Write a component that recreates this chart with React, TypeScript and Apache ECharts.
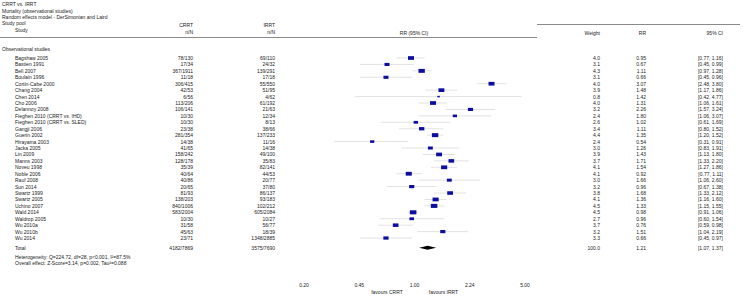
import React, { useEffect, useRef } from 'react';
import * as echarts from 'echarts';

const studies = [
  'Bagshaw 2005', 'Bastien 1991', 'Bell 2007', 'Boulain 1996', 'Cortin-Cabe 2000', 'Chang 2004',
  'Chen 2014', 'Cho 2006', 'Delannoy 2008', 'Fieghen 2010 (CRRT vs. IHD)', 'Fieghen 2010 (CRRT vs. SLED)',
  'Gangji 2006', 'Guerin 2002', 'Hirayama 2003', 'Jacka 2005', 'Lin 2009', 'Manns 2003', 'Noveu 1998',
  'Noble 2006', 'Rauf 2008', 'Sun 2014', 'Swartz 1999', 'Swartz 2005', 'Uchino 2007', 'Wald 2014',
  'Waldrop 2005', 'Wu 2010a', 'Wu 2010b', 'Wu 2014',
];
const crrtN = [
  '78/130', '17/34', '367/1911', '11/18', '306/415', '42/53', '6/56', '113/206', '106/141', '10/30', '10/30',
  '23/38', '281/354', '14/38', '41/65', '158/242', '128/178', '35/39', '40/64', '40/86', '20/65', '81/93',
  '138/203', '840/1006', '583/2004', '10/30', '31/58', '45/63', '23/71',
];
const irrtN = [
  '69/110', '24/32', '139/291', '17/18', '55/550', '51/95', '4/62', '61/192', '21/63', '12/34', '8/13',
  '38/66', '137/233', '11/16', '14/38', '49/100', '35/83', '82/141', '44/53', '20/77', '37/80', '86/137',
  '93/183', '102/212', '605/2084', '10/27', '56/77', '18/39', '1348/2885',
];
const weights = [4.0, 3.1, 4.3, 3.1, 4.0, 3.9, 0.8, 4.0, 3.2, 2.4, 2.6, 3.4, 4.4, 2.4, 3.0, 3.9, 3.7, 4.1,
  4.1, 3.0, 3.2, 3.8, 4.1, 4.5, 4.5, 2.7, 3.7, 3.2, 3.3];
const rr = [0.95, 0.67, 1.11, 0.66, 3.07, 1.48, 1.42, 1.31, 2.26, 1.80, 1.02, 1.11, 1.35, 0.54, 1.26, 1.43,
  1.71, 1.54, 0.92, 1.66, 0.96, 1.68, 1.36, 1.33, 0.98, 0.96, 0.76, 1.51, 0.66];
const ciLow = [0.77, 0.45, 0.97, 0.45, 2.48, 1.17, 0.42, 1.06, 1.57, 1.06, 0.61, 0.80, 1.20, 0.31, 0.83, 1.13,
  1.33, 1.27, 0.77, 1.06, 0.67, 1.33, 1.16, 1.15, 0.91, 0.60, 0.59, 1.04, 0.45];
const ciHigh = [1.16, 0.99, 1.28, 0.96, 3.80, 1.86, 4.77, 1.61, 3.24, 3.07, 1.69, 1.52, 1.52, 0.91, 1.91, 1.80,
  2.20, 1.86, 1.11, 2.60, 1.38, 2.12, 1.60, 1.55, 1.06, 1.54, 0.98, 2.19, 0.97];

const totalCrrt = '4182/7869';
const totalIrrt = '3575/7690';
const totalWeight = 100.0;
const totalRR = 1.21;
const totalLow = 1.07;
const totalHigh = 1.37;

const xTickValues = [0.2, Math.sqrt(5) / 5, 1, Math.sqrt(5), 5];
const xTickLabels = ['0.20', '0.45', '1.00', '2.24', '5.00'];

const titleLines = ['CRRT vs. IRRT', 'Mortality (observational studies)', 'Random effects model - DerSimonian and Laird'];
const heterogeneityText = 'Heterogeneity: Q=224.72, df=28, p<0.001, I\u00b2=87.5%';
const overallText = 'Overall effect: Z-Score=3.14, p=0.002, Tau\u00b2=0.088';

const FONT = '"Liberation Sans", Arial, Helvetica, sans-serif';
const TXT = '#222';
const FS = 5;

const X_STUDY = 15;
const X_CRRT = 193;
const X_IRRT = 275;
const X_W = 600;
const X_RR = 646;
const X_CI = 723;

const fmtCI = (a: number, b: number) => `[${a.toFixed(2)}, ${b.toFixed(2)}]`;

function txt(text: string, x: number, y: number, align: string, color = TXT) {
  return {
    type: 'text',
    x,
    y,
    silent: true,
    style: {
      text,
      fill: color,
      fontSize: FS,
      fontFamily: FONT,
      align,
      textAlign: align,
      verticalAlign: 'middle',
      textVerticalAlign: 'middle',
    },
  };
}

export default function App() {
  const ref = useRef<HTMLDivElement>(null);

  useEffect(() => {
    if (!ref.current) return;
    const chart = echarts.init(ref.current, undefined, { renderer: 'svg' });

    const studyData = studies.map((_, i) => [i, rr[i], ciLow[i], ciHigh[i], weights[i]]);
    const totalRow = 29.5;

    const graphic: any[] = [];
    titleLines.forEach((t, i) => graphic.push(txt(t, 2, [4, 10.5, 17][i], 'left')));
    graphic.push(txt('Study pool', 2, 23, 'left'));
    graphic.push(txt('Study', X_STUDY, 30, 'left'));
    graphic.push(txt('CRRT', X_CRRT, 24.5, 'right'));
    graphic.push(txt('n/N', X_CRRT, 32, 'right'));
    graphic.push(txt('IRRT', X_IRRT, 24.5, 'right'));
    graphic.push(txt('n/N', X_IRRT, 32, 'right'));
    graphic.push(txt('RR (95% CI)', 414, 32.5, 'center'));
    graphic.push(txt('Weight', X_W, 33.3, 'right'));
    graphic.push(txt('RR', X_RR, 33.3, 'right'));
    graphic.push(txt('95% CI', X_CI, 33.3, 'right'));
    graphic.push({ type: 'line', silent: true, shape: { x1: 0, y1: 37.5, x2: 537, y2: 37.5 }, style: { stroke: '#8a8a8a', lineWidth: 1 } });
    graphic.push({ type: 'line', silent: true, shape: { x1: 537, y1: 24.5, x2: 740, y2: 24.5 }, style: { stroke: '#8a8a8a', lineWidth: 1 } });
    graphic.push(txt('Observational studies', 2, 48.5, 'left'));
    graphic.push(txt(heterogeneityText, X_STUDY, 257, 'left'));
    graphic.push(txt(overallText, X_STUDY, 262.5, 'left'));
    graphic.push(txt('favours CRRT', 387, 292, 'center'));
    graphic.push(txt('favours IRRT', 443.5, 292, 'center'));

    const option: any = {
      animation: false,
      grid: { left: 304, right: 218, top: 45.14, bottom: 20.38, containLabel: false },
      xAxis: {
        type: 'log',
        logBase: Math.sqrt(5),
        min: 0.2,
        max: 5,
        axisLine: { show: false },
        axisTick: { show: false },
        splitLine: { show: false },
        axisLabel: {
          fontSize: FS,
          fontFamily: FONT,
          color: TXT,
          margin: 6,
          formatter: (v: number) => {
            let best = 0;
            xTickValues.forEach((t, k) => {
              if (Math.abs(Math.log(t) - Math.log(v)) < Math.abs(Math.log(xTickValues[best]) - Math.log(v))) best = k;
            });
            return xTickLabels[best];
          },
        },
      },
      yAxis: { type: 'value', inverse: true, min: -2, max: 34, show: false },
      graphic,
      series: [
        {
          type: 'custom',
          clip: false,
          encode: { x: [1, 2, 3], y: 0 },
          data: studyData,
          renderItem: (params: any, api: any) => {
            const i = params.dataIndex;
            const row = api.value(0);
            const c = api.coord([api.value(1), row]);
            const lo = api.coord([api.value(2), row]);
            const hi = api.coord([api.value(3), row]);
            const w = api.value(4);
            const sw = 1.6 + 1.1 * w;
            const sh = sw * 0.62;
            const y = c[1];
            return {
              type: 'group',
              children: [
                { type: 'line', shape: { x1: lo[0], y1: y, x2: hi[0], y2: y }, style: { stroke: '#cfcfcf', lineWidth: 0.6 } },
                { type: 'rect', shape: { x: c[0] - sw / 2, y: y - sh / 2, width: sw, height: sh }, style: { fill: '#0d0d9e' } },
                txt(studies[i], X_STUDY, y, 'left'),
                txt(crrtN[i], X_CRRT, y, 'right'),
                txt(irrtN[i], X_IRRT, y, 'right'),
                txt(weights[i].toFixed(1), X_W, y, 'right'),
                txt(rr[i].toFixed(2), X_RR, y, 'right'),
                txt(fmtCI(ciLow[i], ciHigh[i]), X_CI, y, 'right'),
              ],
            };
          },
        },
        {
          type: 'custom',
          clip: false,
          encode: { x: [1, 2, 3], y: 0 },
          data: [[totalRow, totalRR, totalLow, totalHigh, totalWeight]],
          renderItem: (params: any, api: any) => {
            const row = api.value(0);
            const c = api.coord([api.value(1), row]);
            const lo = api.coord([api.value(2), row]);
            const hi = api.coord([api.value(3), row]);
            const y = c[1];
            const h = 2;
            return {
              type: 'group',
              children: [
                {
                  type: 'polygon',
                  shape: { points: [[lo[0], y], [c[0], y - h], [hi[0], y], [c[0], y + h]] },
                  style: { fill: '#000' },
                },
                txt('Total', X_STUDY, y, 'left'),
                txt(totalCrrt, X_CRRT, y, 'right'),
                txt(totalIrrt, X_IRRT, y, 'right'),
                txt(totalWeight.toFixed(1), X_W, y, 'right'),
                txt(totalRR.toFixed(2), X_RR, y, 'right'),
                txt(fmtCI(totalLow, totalHigh), X_CI, y, 'right'),
              ],
            };
          },
        },
      ],
    };

    chart.setOption(option);
    return () => chart.dispose();
  }, []);

  return (
    <div
      ref={ref}
      style={{ position: 'absolute', left: 0, top: 0, width: 743, height: 297, background: '#fff' }}
    />
  );
}
